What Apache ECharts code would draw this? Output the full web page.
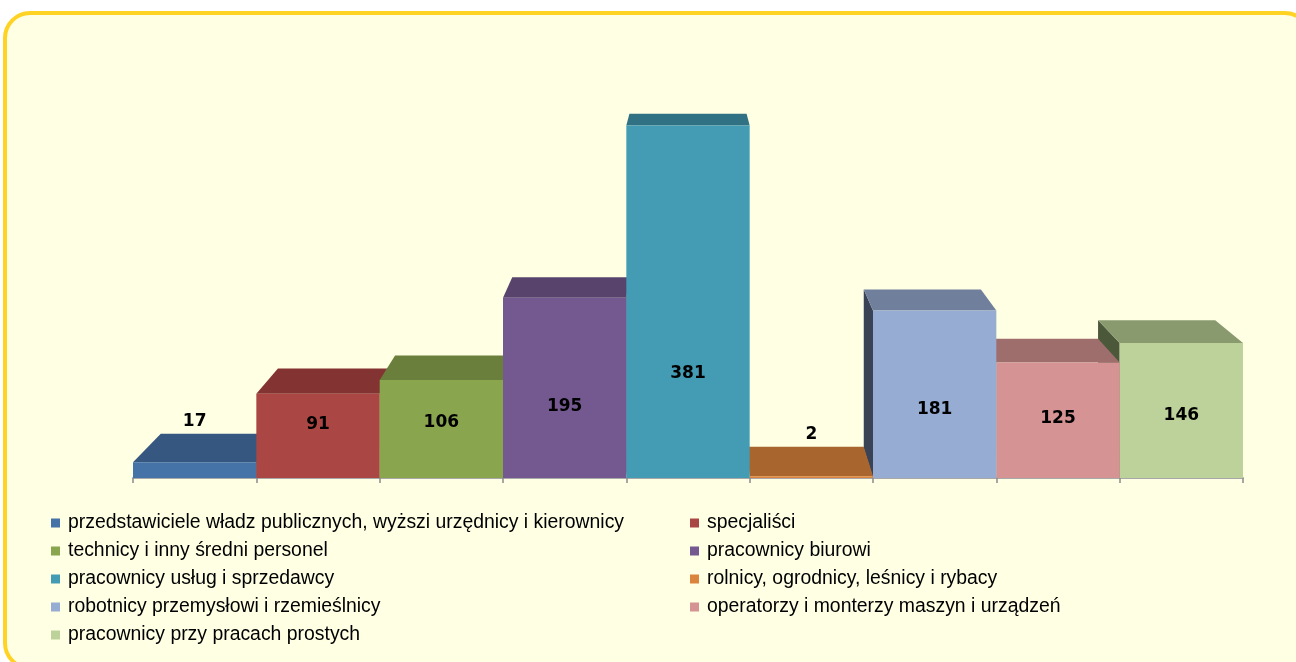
<!DOCTYPE html>
<html>
<head>
<meta charset="utf-8">
<script src="https://cdn.jsdelivr.net/npm/echarts@6/dist/echarts.min.js"></script>
<style>
  html, body { margin: 0; padding: 0; background: #fff; }
  #chart { width: 1296px; height: 662px; }
</style>
</head>
<body>
<div id="chart"></div>
<script>
// data
var categories = [
  'przedstawiciele władz publicznych, wyższi urzędnicy i kierownicy',
  'specjaliści',
  'technicy i inny średni personel',
  'pracownicy biurowi',
  'pracownicy usług i sprzedawcy',
  'rolnicy, ogrodnicy, leśnicy i rybacy',
  'robotnicy przemysłowi i rzemieślnicy',
  'operatorzy i monterzy maszyn i urządzeń',
  'pracownicy przy pracach prostych'
]
var values = [17, 91, 106, 195, 381, 2, 181, 125, 146]

// face colours
var frontColors = ['#4572a7', '#aa4643', '#89a54e', '#735990', '#449cb4', '#db843d', '#96acd3', '#d59393', '#bdd29a']
var topColors = ['#36577f', '#833331', '#6a7f3b', '#58436d', '#307283', '#a8662e', '#6f7f9c', '#9e6e6d', '#8a9a6f']
var sideColors = ['#2a4466', '#662826', '#52622d', '#443454', '#245866', '#7f4d22', '#3a4356', '#774f4e', '#4b583a']

// pseudo 3d: vanishing point sits over the middle bar, well above the plot
var centerIndex = 4
var eyeValue = 636
var depth = 0.05

function renderBar(params, api) {
  var i = api.value(0)
  var v = api.value(1)
  var top = api.coord([i, v])
  var base = api.coord([i, 0])
  var w = api.size([1, 0])[0]
  var vx = api.coord([centerIndex, 0])[0]
  var vy = api.coord([i, eyeValue])[1]
  var xl = top[0] - w / 2, xr = top[0] + w / 2
  var yt = top[1], yb = base[1]
  var back = function (x, y) { return [x + depth * (vx - x), y + depth * (vy - y)] }
  var z = Math.round(2000 - Math.abs(top[0] - vx))
  var kids = []

  var sx = null
  if (xr < vx - 1) sx = xr
  else if (xl > vx + 1) sx = xl
  if (sx !== null) {
    kids.push({
      type: 'polygon', z2: z,
      shape: { points: [[sx, yt], [sx, yb], back(sx, yb), back(sx, yt)] },
      style: { fill: sideColors[i] }
    })
  }
  kids.push({
    type: 'polygon', z2: z,
    shape: { points: [[xl, yt], [xr, yt], back(xr, yt), back(xl, yt)] },
    style: { fill: topColors[i] }
  })
  kids.push({
    type: 'rect', z2: z,
    shape: { x: xl, y: yt, width: w, height: yb - yt },
    style: { fill: frontColors[i] }
  })

  // label sits on the front face, or above the top face when the bar is too short
  var ly = api.coord([i, 40 + 0.19 * v])[1]
  if (ly < yt + 10) ly = back(xl, yt)[1] - 12
  kids.push({
    type: 'text', z2: 5000,
    x: top[0], y: ly,
    style: {
      text: String(v), fill: '#000', align: 'center', verticalAlign: 'middle',
      font: 'bold 17px "DejaVu Sans"'
    }
  })
  return { type: 'group', children: kids }
}

var series = categories.map(function (name, i) {
  return {
    name: name,
    type: 'custom',
    renderItem: renderBar,
    itemStyle: { color: frontColors[i] },
    encode: { x: 0, y: 1 },
    data: [[i, values[i]]],
    animation: false
  }
})

var legendText = { fontSize: 19.4, fontFamily: '"Liberation Sans", Arial', color: '#000', lineHeight: 20, padding: [0, 0, 0, 3] }

var chart = echarts.init(document.getElementById('chart'))
chart.setOption({
  backgroundColor: '#fff',
  animation: false,
  graphic: [{
    type: 'rect', z: -10, silent: true,
    shape: { x: 5, y: 13, width: 1305, height: 655, r: 25 },
    style: { fill: '#ffffe4', stroke: '#ffd324', lineWidth: 4 }
  }],
  grid: { left: 133, right: 53, top: 108, bottom: 184 },
  xAxis: {
    type: 'category',
    data: categories,
    axisLabel: { show: false },
    axisTick: { show: true, interval: 0, length: 5, lineStyle: { color: '#8c8c8c', width: 1.5 } },
    axisLine: { lineStyle: { color: '#a8a8a8', width: 2 } },
    splitLine: { show: false }
  },
  yAxis: { type: 'value', min: 0, max: 400, show: false },
  legend: [{
    data: categories.filter(function (c, i) { return i % 2 === 0 }),
    orient: 'vertical', left: 46, top: 508,
    icon: 'rect', itemWidth: 9, itemHeight: 9, itemGap: 8,
    textStyle: legendText, selectedMode: false
  }, {
    data: categories.filter(function (c, i) { return i % 2 === 1 }),
    orient: 'vertical', left: 685, top: 508,
    icon: 'rect', itemWidth: 9, itemHeight: 9, itemGap: 8,
    textStyle: legendText, selectedMode: false
  }],
  series: series
})
</script>
</body>
</html>
